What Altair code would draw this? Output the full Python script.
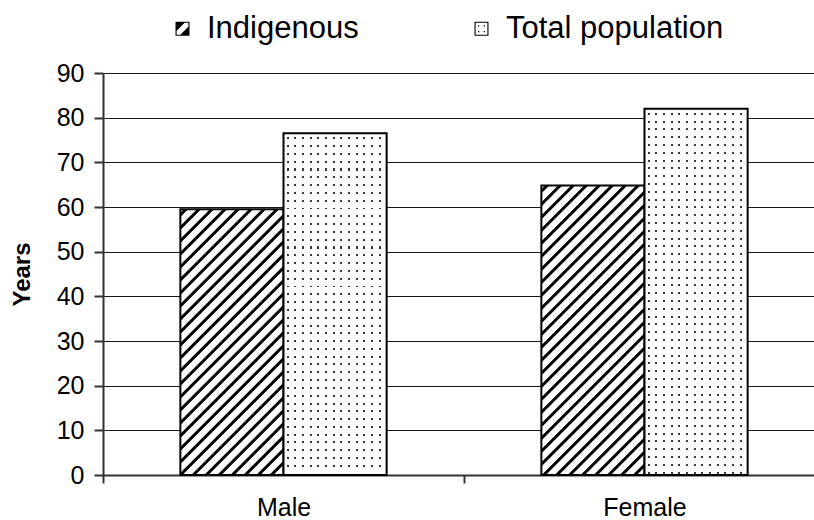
import altair as alt
import pandas as pd

# ---- data -------------------------------------------------------------
sexes = ["Male", "Female"]
series = ["Indigenous", "Total population"]
indigenous = [59.5, 64.8]
total_population = [76.5, 82.0]
y_ticks = [0, 10, 20, 30, 40, 50, 60, 70, 80, 90]

rows = []
for sex, v in zip(sexes, indigenous):
    rows.append({"Sex": sex, "Series": "Indigenous", "Years": v})
for sex, v in zip(sexes, total_population):
    rows.append({"Sex": sex, "Series": "Total population", "Years": v})
df = pd.DataFrame(rows)

# ---- geometry ---------------------------------------------------------
FONT = "Liberation Sans"
PLOT_W = 711          # visible plot width (runs to the right edge)
PLOT_H = 402
X_RANGE = 722         # full band range; the last band edge sits just off-canvas
Y_MAX = 90
BAR_W = X_RANGE / 2 / 3.5


def r(v):
    return round(v, 5)


def hatch_fill(bar_h, w=BAR_W, period=13.0, ink=5.5):
    """Diagonal '/' hatching as a striped linear gradient in bbox units."""
    span = w + bar_h
    norm = w * w + bar_h * bar_h
    x2 = w * span / norm
    y2 = bar_h * span / norm
    stops = [{"offset": 0, "color": "white"}]
    pos = 3.0
    while pos < span:
        for off, col in ((0.0, "white"), (1.3, "black"),
                         (ink - 1.3, "black"), (ink, "white")):
            p = pos + off
            if p < span:
                stops.append({"offset": r(p / span), "color": col})
        pos += period
    stops.append({"offset": 1, "color": "white"})
    return {"gradient": "linear", "x1": 0, "y1": 0, "x2": r(x2), "y2": r(y2),
            "stops": stops}


def dot_columns(w=BAR_W, pitch=7.7, dot=2.0, start=3.0, color="#3a3a3a"):
    """Vertical gray columns; rows of an opaque layer above turn them into dots."""
    stops = [{"offset": 0, "color": "white"}]
    x = start
    while x + dot < w - 1:
        a, b = r(x / w), r((x + dot) / w)
        stops += [{"offset": a, "color": "white"}, {"offset": a, "color": color},
                  {"offset": b, "color": color}, {"offset": b, "color": "white"}]
        x += pitch
    stops.append({"offset": 1, "color": "white"})
    return {"gradient": "linear", "x1": 0, "y1": 0, "x2": 1, "y2": 0, "stops": stops}


def dot_rows(bar_h, pitch=7.8, dot=2.0, start=4.0):
    """Opaque white with transparent gaps where the dot rows show through."""
    clear = "rgba(255,255,255,0)"
    stops = [{"offset": 0, "color": "white"}]
    y = start
    while y + dot < bar_h - 1:
        a, b = r(y / bar_h), r((y + dot) / bar_h)
        stops += [{"offset": a, "color": "white"}, {"offset": a, "color": clear},
                  {"offset": b, "color": clear}, {"offset": b, "color": "white"}]
        y += pitch
    stops.append({"offset": 1, "color": "white"})
    return {"gradient": "linear", "x1": 0, "y1": 0, "x2": 0, "y2": 1, "stops": stops}


# ---- encodings --------------------------------------------------------
x_enc = alt.X(
    "Sex:N",
    sort=sexes,
    scale=alt.Scale(domain=sexes, range=[0, X_RANGE], paddingInner=0, paddingOuter=0),
    axis=alt.Axis(
        title=None, labelAngle=0, tickBand="extent", tickSize=8, tickWidth=2,
        tickColor="#333", domainColor="#333", domainWidth=2,
        labelFont=FONT, labelFontSize=25, labelColor="black", labelPadding=12,
        grid=False,
    ),
)
xoff_enc = alt.XOffset(
    "Series:N", sort=series,
    scale=alt.Scale(domain=series, paddingInner=0, paddingOuter=0.75),
)
y_enc = alt.Y(
    "Years:Q",
    scale=alt.Scale(domain=[0, Y_MAX], nice=False),
    axis=alt.Axis(
        values=y_ticks, title="Years", titleFont=FONT, titleFontSize=24,
        titleFontWeight="bold", titleColor="black", titlePadding=22,
        labelFont=FONT, labelFontSize=25, labelColor="black", labelPadding=10,
        tickSize=9, tickWidth=2, tickColor="#333", domainColor="#333", domainWidth=2,
        grid=True, gridColor="#1a1a1a", gridWidth=1,
    ),
)

layers = []
for sex, val in zip(sexes, indigenous):
    h = val / Y_MAX * PLOT_H
    layers.append(
        alt.Chart(df)
        .transform_filter((alt.datum.Sex == sex) & (alt.datum.Series == "Indigenous"))
        .mark_bar(fill=hatch_fill(h), stroke="black", strokeWidth=2)
        .encode(x=x_enc, xOffset=xoff_enc, y=y_enc)
    )
for sex, val in zip(sexes, total_population):
    h = val / Y_MAX * PLOT_H
    base = alt.Chart(df).transform_filter(
        (alt.datum.Sex == sex) & (alt.datum.Series == "Total population")
    )
    layers.append(
        base.mark_bar(fill=dot_columns(), strokeWidth=0)
        .encode(x=x_enc, xOffset=xoff_enc, y=y_enc)
    )
    layers.append(
        base.mark_bar(fill=dot_rows(h), stroke="black", strokeWidth=2)
        .encode(x=x_enc, xOffset=xoff_enc, y=y_enc)
    )

# Legend symbols as filled custom paths (nonzero winding):
# a framed square holding the hatch triangles, and a framed square with four dots.
frame = "M-1,-1L1,-1L1,1L-1,1Z M-0.84,-0.84L-0.84,0.84L0.84,0.84L0.84,-0.84Z"
hatch_symbol = (frame +
                " M-1,-1L0.45,-1L-1,0.45Z"
                " M1,1L-0.45,1L1,-0.45Z")
dots_symbol = (frame +
               " M-0.5,-0.5h0.18v0.18h-0.18Z"
               " M0.32,-0.5h0.18v0.18h-0.18Z"
               " M-0.5,0.32h0.18v0.18h-0.18Z"
               " M0.32,0.32h0.18v0.18h-0.18Z")

legend = alt.Legend(
    title=None, orient="none", direction="horizontal",
    legendX=64, legendY=-60, padding=0,
    labelFont=FONT, labelFontSize=31, labelColor="black", labelOffset=9,
    labelLimit=400,
    symbolSize=196, symbolFillColor="black", symbolStrokeWidth=0,
    symbolOpacity=1, columnPadding=107,
)
layers.append(
    alt.Chart(df)
    .mark_point(filled=True, fill="black", opacity=0)
    .encode(
        x=x_enc,
        y=y_enc,
        shape=alt.Shape("Series:N", sort=series,
                        scale=alt.Scale(domain=series, range=[hatch_symbol, dots_symbol]),
                        legend=legend),
    )
)

chart = (
    alt.layer(*layers)
    .properties(
        width=PLOT_W,
        height=PLOT_H,
        padding={"left": 103, "top": 73, "right": 0, "bottom": 45},
        autosize=alt.AutoSizeParams(type="none"),
        background="white",
    )
    .configure_view(stroke=None)
)

chart.save("out.html", embed_options={"renderer": "svg", "actions": False})
